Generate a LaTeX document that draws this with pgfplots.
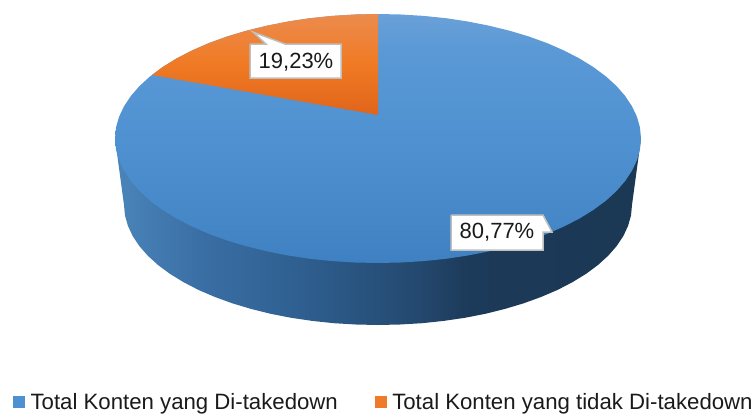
\documentclass[border=0pt]{standalone}
\usepackage{fontspec}
\setmainfont{Liberation Sans}
\usepackage{pgfplots}
\pgfplotsset{compat=1.18}

% gradients: 25bp..75bp is the bounding box of the shaded path
\pgfdeclareverticalshading{faceblue}{100bp}{
  color(0bp)=(rgb,255:red,63;green,128;blue,194);
  color(25bp)=(rgb,255:red,63;green,128;blue,194);
  color(37bp)=(rgb,255:red,72;green,138;blue,201);
  color(50bp)=(rgb,255:red,79;green,145;blue,209);
  color(68bp)=(rgb,255:red,90;green,153;blue,214);
  color(75bp)=(rgb,255:red,106;green,160;blue,216);
  color(100bp)=(rgb,255:red,106;green,160;blue,216)}
\pgfdeclareverticalshading{faceorange}{100bp}{
  color(0bp)=(rgb,255:red,224;green,100;blue,26);
  color(25bp)=(rgb,255:red,224;green,100;blue,26);
  color(50bp)=(rgb,255:red,240;green,122;blue,36);
  color(75bp)=(rgb,255:red,236;green,139;blue,77);
  color(100bp)=(rgb,255:red,236;green,139;blue,77)}
\pgfdeclarehorizontalshading{sideblue}{100bp}{
  color(0bp)=(rgb,255:red,74;green,133;blue,186);
  color(25bp)=(rgb,255:red,74;green,133;blue,186);
  color(33bp)=(rgb,255:red,58;green,111;blue,165);
  color(42.6bp)=(rgb,255:red,47;green,95;blue,144);
  color(50bp)=(rgb,255:red,39;green,80;blue,122);
  color(54bp)=(rgb,255:red,36;green,72;blue,110);
  color(58.7bp)=(rgb,255:red,28;green,58;blue,89);
  color(75bp)=(rgb,255:red,27;green,56;blue,84);
  color(100bp)=(rgb,255:red,27;green,56;blue,84)}

\definecolor{legblue}{RGB}{79,144,208}
\definecolor{legorange}{RGB}{238,122,42}
\definecolor{boxgray}{RGB}{191,191,191}
\definecolor{txt}{RGB}{26,26,26}

\begin{document}
\begin{tikzpicture}
\begin{axis}[
    at={(0,0)},
    scale only axis,
    width=756pt, height=416pt,
    xmin=0, xmax=756, ymin=0, ymax=416,
    y dir=reverse,
    axis line style={draw=none},
    xtick=\empty, ytick=\empty,
    legend style={at={(axis cs:10,402)}, anchor=west, draw=none, fill=none, overlay,
        font=\fontsize{22.2}{25}\selectfont, text=txt, legend columns=2,
        /tikz/every even column/.append style={column sep=35pt}},
    legend image code/.code={\fill[#1] (0pt,-5.5pt) rectangle (11pt,5.5pt);
        \path (15pt,0pt);},
]
\addlegendimage{legblue}
\addlegendentry{Total Konten yang Di-takedown}
\addlegendimage{legorange}
\addlegendentry{Total Konten yang tidak Di-takedown}

% side wall of the pie
\addplot[forget plot, draw=none, shade, shading=sideblue] coordinates {
    (115,138.5)(124,205)(125,215.5)(127.9,225.8)(132.7,236.1)(139.3,246)
    (147.8,255.7)(158,265)(169.9,273.8)(183.4,282.1)(198.4,289.9)(214.7,296.9)
    (232.3,303.3)(251,308.9)(270.7,313.8)(291.1,317.8)(312.3,320.9)(333.9,323.2)
    (355.9,324.5)(378,325)(400.1,324.5)(422.1,323.2)(443.7,320.9)(464.9,317.8)
    (485.3,313.8)(505,308.9)(523.7,303.3)(541.3,296.9)(557.6,289.9)(572.6,282.1)
    (586.1,273.8)(598,265)(608.2,255.7)(616.7,246)(623.3,236.1)(628.1,225.8)
    (631,215.5)(632,205)(641,138.5)
};
% top face, 80,77 %
\addplot[forget plot, draw=none, shade, shading=faceblue] coordinates {
    (641,138.5)(640,149.4)(637,160.1)(632,170.7)(625.1,181.1)(616.4,191.1)
    (605.8,200.8)(593.4,209.9)(579.5,218.5)(564,226.5)(547.1,233.9)(528.9,240.5)
    (509.5,246.3)(489.1,251.3)(467.9,255.5)(446.1,258.8)(423.7,261.1)(400.9,262.5)
    (378,263)(355.1,262.5)(332.3,261.1)(309.9,258.8)(288.1,255.5)(266.9,251.3)
    (246.5,246.3)(227.1,240.5)(208.9,233.9)(192,226.5)(176.5,218.5)(162.6,209.9)
    (150.2,200.8)(139.6,191.1)(130.9,181.1)(124,170.7)(119,160.1)(116,149.4)
    (115,138.5)(116,127.6)(119,116.9)(124,106.3)(130.9,95.9)(139.6,85.9)
    (150.2,76.3)(162.6,67.1)(176.5,58.5)(192,50.5)(208.9,43.1)(227.1,36.5)
    (246.5,30.7)(266.9,25.7)(288.1,21.5)(309.9,18.2)(332.3,15.9)(355.1,14.5)
    (378,14)(400.9,14.5)(423.7,15.9)(446.1,18.2)(467.9,21.5)(489.1,25.7)
    (509.5,30.7)(528.9,36.5)(547.1,43.1)(564,50.5)(579.5,58.5)(593.4,67.1)
    (605.8,76.3)(616.4,85.9)(625.1,95.9)(632,106.3)(637,116.9)(640,127.6)
};
% top face, 19,23 %
\addplot[forget plot, draw=none, shade, shading=faceorange] coordinates {
    (378,115)(152,75)(162.6,67.1)(176.5,58.5)(192,50.5)(208.9,43.1)(227.1,36.5)
    (246.5,30.7)(266.9,25.7)(288.1,21.5)(309.9,18.2)(332.3,15.9)(355.1,14.5)(378,14)
};
% data label boxes with their tails
\addplot[forget plot, draw=boxgray, line width=1.5pt, fill=white] coordinates {
    (250,44)(266,44)(253,32)(285,44)(341,44)(341,78)(250,78)(250,44)
};
\addplot[forget plot, draw=boxgray, line width=1.5pt, fill=white] coordinates {
    (451,215)(543,215)(552,232)(543,232)(543,250)(451,250)(451,215)
};
\node[font=\fontsize{22}{24}\selectfont, text=txt] at (axis cs:296,62) {19,23\%};
\node[font=\fontsize{22}{24}\selectfont, text=txt] at (axis cs:497,232) {80,77\%};
\end{axis}
\end{tikzpicture}
\end{document}
